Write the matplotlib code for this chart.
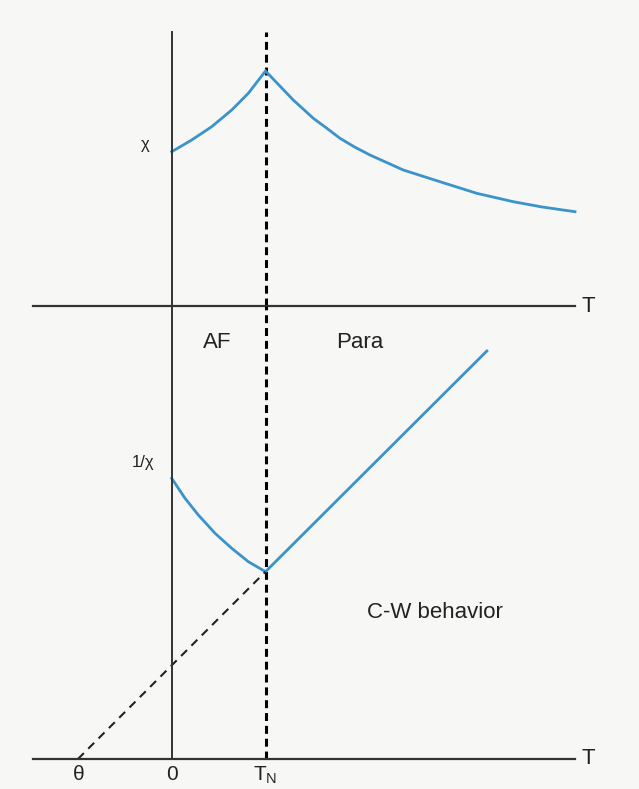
import numpy as np
import matplotlib.pyplot as plt

plt.rcParams['font.family'] = ['Liberation Sans', 'DejaVu Sans']
plt.rcParams['mathtext.fontset'] = 'custom'
plt.rcParams['mathtext.rm'] = 'Liberation Sans'
plt.rcParams['mathtext.it'] = 'Liberation Sans'

# temperature in units of T_N
theta = -1.0
t_n = 1.0

# susceptibility chi (upper panel)
chi_T = [0.0, 0.213, 0.426, 0.64, 0.817, 1.0,
         1.296, 1.51, 1.65, 1.794, 1.95, 2.114, 2.469, 2.86, 3.252, 3.642, 3.95, 4.30]
chi_val = [1.543, 1.66, 1.793, 1.96, 2.127, 2.35,
           2.06, 1.877, 1.78, 1.677, 1.59, 1.51, 1.36, 1.243, 1.127, 1.043, 0.99, 0.943]

# inverse susceptibility 1/chi (lower panel)
inv_T = [0.0, 0.142, 0.284, 0.462, 0.64, 0.817, 1.0, 3.36]
inv_val = [2.807, 2.607, 2.44, 2.257, 2.107, 1.973, 1.873, 4.08]

# Curie-Weiss extrapolation
cw_T = [theta, t_n]
cw_val = [0.0, 1.873]

tick_pos = [theta, 0.0, t_n]
tick_labels = [r'$\mathregular{\theta}$', '0', r'$\mathregular{T_N}$']

BLUE = '#3a93ca'
AXIS = '#333333'
BG = '#f7f7f5'

fig = plt.figure(figsize=(6.39, 7.89), dpi=100)
fig.patch.set_facecolor(BG)

W, H = 639, 789
left = 33 / W
width = 542 / W
ax_top = fig.add_axes([left, 1 - 306 / H, width, 274 / H])
ax_bot = fig.add_axes([left, 30 / H, width, 453 / H])

xlim = (-1.479, 4.30)
for ax in (ax_top, ax_bot):
    ax.set_facecolor('none')
    ax.set_xlim(*xlim)
    for side in ('top', 'right'):
        ax.spines[side].set_visible(False)
    ax.spines['left'].set_position(('data', 0))
    ax.spines['left'].set_color(AXIS)
    ax.spines['left'].set_linewidth(1.4)
    ax.spines['bottom'].set_color(AXIS)
    ax.spines['bottom'].set_linewidth(1.6)
    ax.set_yticks([])
    ax.axvline(t_n, color='black', lw=2.2, ls=(0, (2.6, 1.6)))
    ax.text(4.44, 0, 'T', fontsize=16, ha='center', va='center', color='#222222')

ax_top.set_ylim(0, 2.74)
ax_top.set_xticks([])
ax_top.plot(chi_T, chi_val, color=BLUE, lw=2.0, clip_on=False, solid_joinstyle='miter')
ax_top.text(-0.285, 1.61, 'χ', fontsize=12, ha='center', va='center', color='#222222')

ax_bot.set_ylim(0, 4.53)
ax_bot.set_xticks(tick_pos)
ax_bot.set_xticklabels(tick_labels, fontsize=15, color='#222222')
ax_bot.tick_params(axis='x', length=0, pad=4)
ax_bot.plot(inv_T, inv_val, color=BLUE, lw=2.0, solid_joinstyle='miter')
ax_bot.plot(cw_T, cw_val, color='#222222', lw=1.5, ls=(0, (4, 3)))
ax_bot.text(-0.31, 2.96, '1/χ', fontsize=12, ha='center', va='center', color='#222222')
ax_bot.text(0.49, 4.17, 'AF', fontsize=16, ha='center', va='center', color='#222222')
ax_bot.text(2.0, 4.16, 'Para', fontsize=16, ha='center', va='center', color='#222222')
ax_bot.text(2.81, 1.46, 'C-W behavior', fontsize=16, ha='center', va='center', color='#222222')

fig.savefig('out.png', dpi=100, facecolor=BG)
